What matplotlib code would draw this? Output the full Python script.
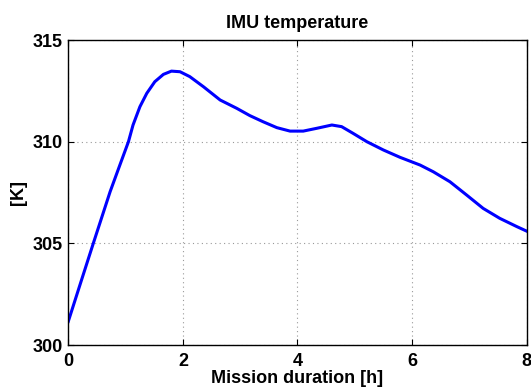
import matplotlib
matplotlib.use('Agg')
import matplotlib.pyplot as plt

# Values
hours = [0, 0.22, 0.44, 0.73, 0.90, 1.05, 1.13, 1.25, 1.37, 1.51, 1.66,
         1.80, 1.95, 2.12, 2.36, 2.65, 2.94, 3.17, 3.40, 3.64, 3.87, 4.10,
         4.34, 4.60, 4.77, 4.97, 5.21, 5.50, 5.79, 6.14, 6.37, 6.66, 6.95,
         7.24, 7.53, 7.83, 8.0]
temp_k = [301.16, 303.1, 305.03, 307.54, 308.85, 310.0, 310.82, 311.72,
          312.38, 312.95, 313.31, 313.47, 313.44, 313.2, 312.7, 312.05,
          311.64, 311.28, 310.98, 310.69, 310.52, 310.52, 310.66, 310.82,
          310.74, 310.41, 310.0, 309.59, 309.23, 308.85, 308.52, 308.03,
          307.38, 306.72, 306.23, 305.82, 305.6]

x_ticks = [0, 2, 4, 6, 8]
y_ticks = [300, 305, 310, 315]

plt.rcParams['font.family'] = ['Liberation Sans', 'DejaVu Sans']
plt.rcParams['font.weight'] = 'bold'
plt.rcParams['font.size'] = 13

fig = plt.figure(figsize=(5.31, 3.87), dpi=100)
ax = fig.add_axes([0.1286, 0.1085, 0.9919 - 0.1286, 0.8966 - 0.1085])

ax.plot(hours, temp_k, color='#0000ff', linewidth=2.2)

ax.set_xlim(0, 8)
ax.set_ylim(300, 315)
ax.set_xticks(x_ticks)
ax.set_yticks(y_ticks)

# matlab style: inward ticks on all sides, dotted grid
ax.tick_params(direction='in', length=4, width=0.8, top=True, right=True)
ax.tick_params(axis='x', pad=6)
ax.tick_params(axis='y', pad=4)
ax.grid(True, linestyle=(0, (1, 3)), color='#999999', linewidth=0.8)
for sp in ax.spines.values():
    sp.set_linewidth(1.0)

ax.set_title('IMU temperature', fontweight='bold', fontsize=13, pad=9)
ax.set_xlabel('Mission duration [h]', fontweight='bold', labelpad=0)
ax.set_ylabel('[K]', fontweight='bold', labelpad=4)

fig.savefig('out.png', dpi=100)
